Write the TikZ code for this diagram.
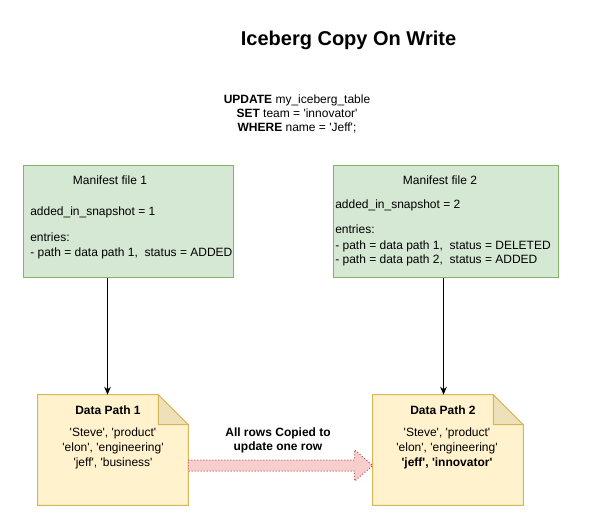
\documentclass[tikz,border=0pt]{standalone}
\usepackage{fontspec}
\setmainfont{Liberation Sans}
\usetikzlibrary{calc,arrows.meta}
\newcommand{\sqt}{\textquotesingle}
\definecolor{mfill}{HTML}{D5E8D4}
\definecolor{mdraw}{HTML}{82B366}
\definecolor{nfill}{HTML}{FFF2CC}
\definecolor{ndraw}{HTML}{D6B656}
\definecolor{nfold}{HTML}{EEE0B8}
\definecolor{afill}{HTML}{F8CECC}
\definecolor{adraw}{HTML}{B85450}
\tikzset{
  manifest/.style={draw=mdraw,fill=mfill,line width=0.75pt,minimum width=#1,minimum height=84pt,inner sep=0pt,anchor=north west},
  notebox/.style={minimum width=112.5pt,minimum height=82.5pt,inner sep=0pt},
  notedraw/.style={draw=ndraw,fill=nfill,line width=0.75pt},
  foldfill/.style={draw=ndraw,fill=nfold,line width=0.75pt},
  txt/.style={inner sep=0pt,font=\fontsize{9pt}{10.8pt}\selectfont,text height=6.5pt,text depth=1.9pt},
  lt/.style={txt,anchor=west},
  ct/.style={txt,anchor=center,align=center},
  bt/.style={ct,font=\bfseries\fontsize{9pt}{10.8pt}\selectfont},
  arr/.style={-{Stealth[length=6pt,width=5pt]},line width=0.75pt},
  bigarrow/.style={draw=adraw,fill=afill,dash pattern=on 0.75pt off 1.5pt,line width=0.75pt}
}
\begin{document}
\begin{tikzpicture}[x=0.75pt,y=-0.75pt]
\useasboundingbox (0,0) rectangle (589,531);
% title
\node[inner sep=0pt,font=\bfseries\fontsize{15pt}{18pt}\selectfont] (title) at (348.5,40) {Iceberg Copy On Write};
% SQL
\node[ct] (sql1) at (297,100) {\textbf{UPDATE} my\_iceberg\_table};
\node[ct] (sql2) at (297,114) {\textbf{SET} team = \sqt innovator\sqt};
\node[ct] (sql3) at (297,128) {\textbf{WHERE} name = \sqt Jeff\sqt;};
% manifest 1
\node[manifest=157.5pt] (m1) at (23,165) {};
\node[ct] (m1t) at (110,181) {Manifest file 1};
\node[lt] (m1a) at (30,212) {added\_in\_snapshot = 1};
\node[lt] (m1b) at (30,238) {entries:};
\node[lt] (m1c) at (30,253) {- path = data path 1,\ \ status = ADDED};
% manifest 2
\node[manifest=168.75pt] (m2) at (333,165) {};
\node[ct] (m2t) at (440,181) {Manifest file 2};
\node[lt] (m2a) at (335,205) {added\_in\_snapshot = 2};
\node[lt] (m2b) at (335,230) {entries:};
\node[lt] (m2c) at (335,246) {- path = data path 1,\ \ status = DELETED};
\node[lt] (m2d) at (335,260) {- path = data path 2,\ \ status = ADDED};
% data path 1
\node[notebox] (d1) at (113,450) {};
\draw[notedraw] (d1.south west) -- (d1.north west) -- ([xshift=-22.5pt]d1.north east) -- ([yshift=-22.5pt]d1.north east) -- (d1.south east) -- cycle;
\draw[foldfill] ([xshift=-22.5pt]d1.north east) -- ([xshift=-22.5pt,yshift=-22.5pt]d1.north east) -- ([yshift=-22.5pt]d1.north east) -- cycle;
\node[bt] (d1t) at (108,411) {Data Path 1};
\node[ct] (d1a) at (113,433) {\sqt Steve\sqt, \sqt product\sqt};
\node[ct] (d1b) at (113,448) {\sqt elon\sqt, \sqt engineering\sqt};
\node[ct] (d1c) at (113,463) {\sqt jeff\sqt, \sqt business\sqt};
% data path 2
\node[notebox] (d2) at (448,450) {};
\draw[notedraw] (d2.south west) -- (d2.north west) -- ([xshift=-22.5pt]d2.north east) -- ([yshift=-22.5pt]d2.north east) -- (d2.south east) -- cycle;
\draw[foldfill] ([xshift=-22.5pt]d2.north east) -- ([xshift=-22.5pt,yshift=-22.5pt]d2.north east) -- ([yshift=-22.5pt]d2.north east) -- cycle;
\node[bt] (d2t) at (443,411) {Data Path 2};
\node[ct] (d2a) at (447,433) {\sqt Steve\sqt, \sqt product\sqt};
\node[ct] (d2b) at (447,448) {\sqt elon\sqt, \sqt engineering\sqt};
\node[bt] (d2c) at (447,463) {\sqt jeff\sqt, \sqt innovator\sqt};
% connectors
\draw[arr] ([xshift=-15.75pt]m1.south) -- ([xshift=-15.75pt]m1.south |- d1.north);
\draw[arr] ([xshift=-1.875pt]m2.south) -- ([xshift=-1.875pt]m2.south |- d2.north);
% big arrow
\coordinate (as) at (d1.east |- 0,465.5);
\coordinate (ae) at (d2.west |- 0,465.5);
\draw[bigarrow] ($(as)+(0,-5.5)$) -- ($(ae)+(-18,-5.5)$) -- ($(ae)+(-18,-15.5)$) -- (ae) -- ($(ae)+(-18,15.5)$) -- ($(ae)+(-18,5.5)$) -- ($(as)+(0,5.5)$) -- cycle;
\node[bt] (al1) at (278,433) {All rows Copied to};
\node[bt] (al2) at (278,447) {update one row};
\end{tikzpicture}
\end{document}
